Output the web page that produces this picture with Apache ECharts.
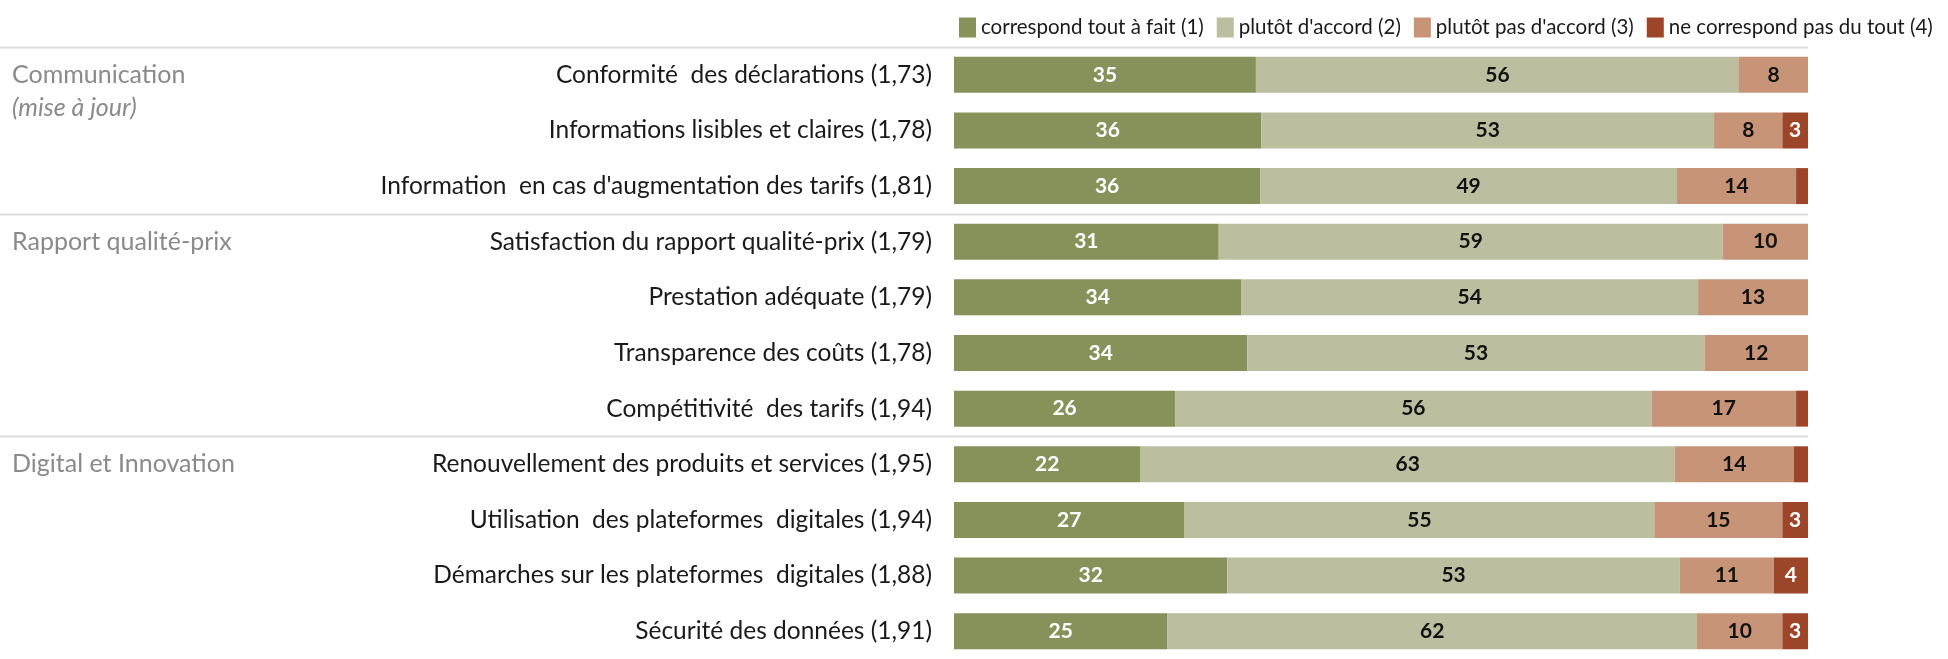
<!DOCTYPE html>
<html>
<head>
<meta charset="utf-8">
<script src="https://cdn.jsdelivr.net/npm/echarts@6/dist/echarts.min.js"></script>
<style>
  html, body { margin: 0; padding: 0; background: #ffffff; }
  #chart { width: 1948px; height: 659px; }
</style>
</head>
<body>
<div id="chart"></div>
<script>
// Survey items (mean score in brackets), top to bottom
const categories = [
  "Conformité  des déclarations (1,73)",
  "Informations lisibles et claires (1,78)",
  "Information  en cas d'augmentation des tarifs (1,81)",
  "Satisfaction du rapport qualité-prix (1,79)",
  "Prestation adéquate (1,79)",
  "Transparence des coûts (1,78)",
  "Compétitivité  des tarifs (1,94)",
  "Renouvellement des produits et services (1,95)",
  "Utilisation  des plateformes  digitales (1,94)",
  "Démarches sur les plateformes  digitales (1,88)",
  "Sécurité des données (1,91)"
];

// Answer scale
const seriesNames = [
  "correspond tout à fait (1)",
  "plutôt d'accord (2)",
  "plutôt pas d'accord (3)",
  "ne correspond pas du tout (4)"
];

// Shares in percent for each answer
const toutAFait   = [35, 36, 36, 31, 34, 34, 26, 22, 27, 32, 25];
const plutotDAcc  = [56, 53, 49, 59, 54, 53, 56, 63, 55, 53, 62];
const plutotPas   = [8, 8, 14, 10, 13, 12, 17, 14, 15, 11, 10];
const pasDuTout   = [0, 3, 1.4, 0, 0, 0, 1.4, 1.7, 3, 4, 3];

// Thematic groups: name, optional note, index of first item
const groupNames = ["Communication", "Rapport qualité-prix", "Digital et Innovation"];
const groupNotes = ["(mise à jour)", "", ""];
const groupStart = [0, 3, 7];

const colors = ["#87925a", "#bbbfa0", "#c89478", "#9c4528"];
const labelColors = ["#ffffff", "#111111", "#111111", "#ffffff"];

const FONT = "Lato, 'Open Sans', sans-serif";

const allSeries = [toutAFait, plutotDAcc, plutotPas, pasDuTout];
const rowTotals = categories.map((_, i) => allSeries.reduce((s, arr) => s + arr[i], 0));

const chart = echarts.init(document.getElementById("chart"), null, { renderer: "canvas" });

const option = {
  animation: false,
  textStyle: { fontFamily: FONT },
  legend: {
    data: seriesNames,
    left: 954,
    top: 12,
    width: 994,
    icon: "rect",
    itemWidth: 17,
    itemHeight: 20,
    itemGap: 13,
    selectedMode: false,
    textStyle: { fontFamily: FONT, fontSize: 20.5, color: "#1a1a1a" }
  },
  grid: { left: 954, right: 140, top: 47, bottom: -13, containLabel: false },
  xAxis: { type: "value", min: 0, max: 100, show: false },
  yAxis: {
    type: "category",
    inverse: true,
    data: categories,
    axisLine: { show: false },
    axisTick: { show: false },
    splitLine: { show: false },
    axisLabel: { fontFamily: FONT, fontSize: 24.5, color: "#1a1a1a", margin: 22 }
  },
  series: allSeries.map((vals, k) => ({
    name: seriesNames[k],
    type: "bar",
    stack: "total",
    barWidth: 36,
    itemStyle: { color: colors[k] },
    emphasis: { disabled: true },
    label: {
      show: true,
      position: "inside",
      fontFamily: FONT,
      fontWeight: "bold",
      fontSize: 21,
      color: labelColors[k],
      formatter: p => (p.data.raw >= 2 ? String(p.data.raw) : "")
    },
    data: vals.map((v, i) => ({ value: v / rowTotals[i] * 100, raw: v }))
  }))
};

chart.setOption(option);

// Group separators and group titles, placed from the category axis
const yPix = i => chart.convertToPixel({ yAxisIndex: 0 }, i);
const halfBand = (yPix(1) - yPix(0)) / 2;
const xEnd = chart.convertToPixel({ xAxisIndex: 0 }, 100);

const graphics = [];
groupStart.forEach((g, j) => {
  const yLine = Math.round(yPix(g) - halfBand) + 0.5;
  graphics.push({
    type: "line",
    silent: true,
    shape: { x1: 0, y1: yLine, x2: xEnd, y2: yLine },
    style: { stroke: "#dcdcdc", lineWidth: 2 }
  });
  graphics.push({
    type: "text",
    silent: true,
    x: 12,
    y: yPix(g),
    style: {
      text: groupNames[j],
      fontFamily: FONT,
      fontSize: 25,
      fill: "#8a8a8a",
      verticalAlign: "middle"
    }
  });
  if (groupNotes[j]) {
    graphics.push({
      type: "text",
      silent: true,
      x: 12,
      y: yPix(g) + 33,
      style: {
        text: groupNotes[j],
        fontFamily: FONT,
        fontSize: 25,
        fontStyle: "italic",
        fill: "#8a8a8a",
        verticalAlign: "middle"
      }
    });
  }
});

chart.setOption({ graphic: graphics });
</script>
</body>
</html>
